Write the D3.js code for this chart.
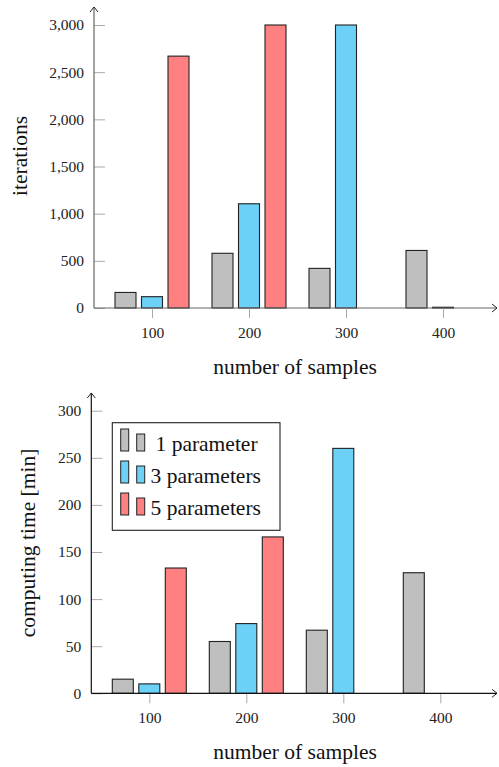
<!DOCTYPE html>
<html>
<head>
<meta charset="utf-8">
<script src="https://cdn.jsdelivr.net/npm/d3@7"></script>
<style>
  body { margin: 0; background: #fff; }
</style>
</head>
<body>
<div id="chart"></div>
<script>
// values
let samples = [100, 200, 300, 400];
let seriesNames = ["1 parameter", "3 parameters", "5 parameters"];
let seriesColors = ["#bfbfbf", "#6dd0f7", "#ff8080"];

let itersOne = [165, 580, 420, 610];
let itersThree = [120, 1105, 3000, 8];
let itersFive = [2670, 3000, null, null];

let timeOne = [15, 55, 67, 128];
let timeThree = [10, 74, 260, 0];
let timeFive = [133, 166, null, null];

let iterTicks = [0, 500, 1000, 1500, 2000, 2500, 3000];
let timeTicks = [0, 50, 100, 150, 200, 250, 300];

let width = 499, height = 767;
let serif = "Liberation Serif";

let svg = d3.select("#chart")
    .append("svg")
    .attr("width", width)
    .attr("height", height)
    .attr("font-family", serif);

function drawPanel(opt) {
    let g = svg.append("g");

    let y = d3.scaleLinear().domain([0, opt.ymax]).range([opt.y0, opt.ytop]);
    let x = d3.scaleLinear().domain([100, 400]).range([opt.ax + 58, opt.ax + 58 + 291]);

    let barW = 21, step = 26.5;
    let series = [opt.one, opt.three, opt.five];

    // bars
    series.forEach(function (vals, si) {
        let pts = samples.map((s, i) => ({ s: s, v: vals[i] })).filter(d => d.v !== null);
        g.append("g")
            .selectAll("rect")
            .data(pts)
            .enter()
            .append("rect")
            .attr("x", d => x(d.s) + (si - 1) * step - barW / 2)
            .attr("y", d => y(d.v))
            .attr("width", barW)
            .attr("height", d => opt.y0 - y(d.v))
            .attr("fill", seriesColors[si])
            .attr("stroke", "#222")
            .attr("stroke-width", 1.1);
    });

    // y axis ticks (inside)
    let yAxis = g.append("g")
        .attr("transform", "translate(" + opt.ax + ",0)")
        .call(d3.axisLeft(y).tickValues(opt.ticks).tickSizeInner(-11).tickSizeOuter(0)
            .tickPadding(10).tickFormat(opt.fmt))
        .attr("font-family", serif)
        .attr("font-size", 15.5);
    yAxis.select(".domain").remove();
    yAxis.selectAll(".tick line").attr("stroke", "#aaa");
    yAxis.selectAll(".tick text").attr("fill", "#222");

    // x axis ticks
    let xAxis = g.append("g")
        .attr("transform", "translate(0," + opt.y0 + ")")
        .call(d3.axisBottom(x).tickValues(samples).tickSizeInner(10).tickSizeOuter(0)
            .tickPadding(9))
        .attr("font-family", serif)
        .attr("font-size", 15.5);
    xAxis.select(".domain").remove();
    xAxis.selectAll(".tick line").attr("stroke", "#aaa");
    xAxis.selectAll(".tick text").attr("fill", "#222");

    // axis lines with arrows
    g.append("line")
        .attr("x1", opt.ax).attr("x2", opt.ax)
        .attr("y1", opt.y0).attr("y2", opt.arrowTop)
        .attr("stroke", opt.axisColor).attr("stroke-width", 1.2);
    g.append("path")
        .attr("d", "M" + (opt.ax - 4) + "," + (opt.arrowTop + 5) + " L" + opt.ax + "," + opt.arrowTop +
            " L" + (opt.ax + 4) + "," + (opt.arrowTop + 5))
        .attr("fill", "none").attr("stroke", "#222").attr("stroke-width", 1);

    g.append("line")
        .attr("x1", opt.ax).attr("x2", 497)
        .attr("y1", opt.y0).attr("y2", opt.y0)
        .attr("stroke", opt.axisColor).attr("stroke-width", 1.2);
    g.append("path")
        .attr("d", "M492," + (opt.y0 - 4) + " L497," + opt.y0 + " L492," + (opt.y0 + 4))
        .attr("fill", "none").attr("stroke", "#222").attr("stroke-width", 1);

    // axis titles
    g.append("text")
        .attr("x", 295)
        .attr("y", opt.y0 + 59)
        .attr("text-anchor", "middle")
        .attr("dominant-baseline", "central")
        .attr("font-size", 21.5)
        .attr("fill", "#111")
        .text("number of samples");

    g.append("text")
        .attr("transform", "translate(" + opt.labelX + "," + opt.labelY + ") rotate(-90)")
        .attr("text-anchor", "middle")
        .attr("dominant-baseline", "central")
        .attr("font-size", 21.5)
        .attr("fill", "#111")
        .text(opt.label);

    return g;
}

drawPanel({
    ax: 94, y0: 308, ytop: 25, arrowTop: 7, ymax: 3000,
    one: itersOne, three: itersThree, five: itersFive,
    ticks: iterTicks, fmt: d3.format(","),
    axisColor: "#666", label: "iterations", labelX: 20, labelY: 156
});

let bottom = drawPanel({
    ax: 91.3, y0: 693.3, ytop: 410.7, arrowTop: 393, ymax: 300,
    one: timeOne, three: timeThree, five: timeFive,
    ticks: timeTicks, fmt: d3.format("d"),
    axisColor: "#111", label: "computing time [min]", labelX: 28, labelY: 543
});

// legend
let legend = bottom.append("g");
legend.append("rect")
    .attr("x", 112.3).attr("y", 422.7)
    .attr("width", 167.7).attr("height", 107.6)
    .attr("fill", "#fff").attr("stroke", "#222").attr("stroke-width", 1.1);

seriesNames.forEach(function (name, i) {
    let base = 451 + i * 32;
    legend.append("rect")
        .attr("x", 120.7).attr("y", base - 22)
        .attr("width", 8).attr("height", 22)
        .attr("fill", seriesColors[i]).attr("stroke", "#222").attr("stroke-width", 1);
    legend.append("rect")
        .attr("x", 136.7).attr("y", base - 17)
        .attr("width", 8).attr("height", 17)
        .attr("fill", seriesColors[i]).attr("stroke", "#222").attr("stroke-width", 1);
    legend.append("text")
        .attr("x", i === 0 ? 155.5 : 150.5)
        .attr("y", base)
        .attr("font-size", 21.5)
        .attr("fill", "#111")
        .text(name);
});
</script>
</body>
</html>
